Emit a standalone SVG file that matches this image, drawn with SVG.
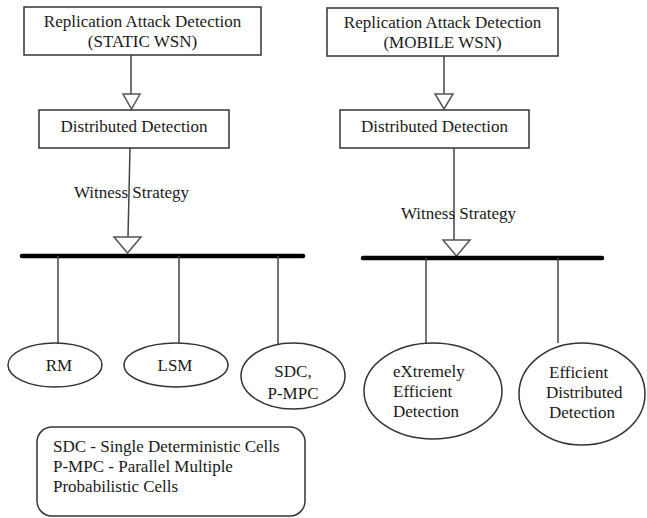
<svg xmlns="http://www.w3.org/2000/svg" width="647" height="518" viewBox="0 0 647 518" font-family="'Liberation Serif', 'DejaVu Serif', serif">
<style>
text{font-family:'Liberation Serif','DejaVu Serif',serif;font-size:17px;fill:#1a1a1a}
.box{fill:#fff;stroke:#333;stroke-width:1.5}
.ln{stroke:#444;stroke-width:1.5;fill:none}
.bar{stroke:#000;stroke-width:4.5;stroke-linecap:round}
.tri{fill:#fff;stroke:#555;stroke-width:1.5}
.c{text-anchor:middle}
</style>
<rect width="647" height="518" fill="#fff"/>
<g id="connectors">
<line class="ln" x1="131" y1="55" x2="131" y2="94"/>
<polygon class="tri" points="123,94 140,94 131.5,109"/>
<line class="ln" x1="444" y1="56" x2="444" y2="94"/>
<polygon class="tri" points="435,94 453,94 444,109"/>
<line class="ln" x1="130" y1="148" x2="128" y2="237"/>
<polygon class="tri" points="114,237 141,237 127.5,253"/>
<line class="bar" x1="22" y1="256" x2="303" y2="256"/>
<line class="ln" x1="58" y1="256" x2="58" y2="343"/>
<line class="ln" x1="179" y1="256" x2="179" y2="343"/>
<line class="ln" x1="278" y1="256" x2="278" y2="344"/>
<line class="ln" x1="454" y1="148" x2="454" y2="240"/>
<polygon class="tri" points="443,240 470,240 456.5,256"/>
<line class="bar" x1="363" y1="258" x2="602" y2="258"/>
<line class="ln" x1="426" y1="258" x2="426" y2="343"/>
<line class="ln" x1="558" y1="258" x2="558" y2="343"/>
</g>
<g id="static-root">
<rect class="box" x="24" y="7" width="237" height="48"/>
<text class="c" x="142.5" y="27">Replication Attack Detection</text>
<text class="c" x="142.5" y="47">(STATIC WSN)</text>
</g>
<g id="mobile-root">
<rect class="box" x="327" y="8" width="231" height="48"/>
<text class="c" x="442.5" y="28">Replication Attack Detection</text>
<text class="c" x="442.5" y="48">(MOBILE WSN)</text>
</g>
<g id="static-distributed">
<rect class="box" x="39" y="110" width="190" height="38"/>
<text class="c" x="134" y="132">Distributed Detection</text>
</g>
<g id="mobile-distributed">
<rect class="box" x="340" y="110" width="189" height="38"/>
<text class="c" x="434.5" y="132">Distributed Detection</text>
</g>
<g id="label-static">
<text x="74" y="198">Witness Strategy</text>
</g>
<g id="label-mobile">
<text x="401" y="219">Witness Strategy</text>
</g>
<g id="rm">
<ellipse class="box" cx="55" cy="365" rx="47" ry="22"/>
<text class="c" x="59" y="371">RM</text>
</g>
<g id="lsm">
<ellipse class="box" cx="176" cy="365" rx="52" ry="22"/>
<text class="c" x="175" y="371">LSM</text>
</g>
<g id="sdc">
<ellipse class="box" cx="293" cy="376" rx="52" ry="33"/>
<text class="c" x="293" y="377">SDC,</text>
<text class="c" x="293" y="399">P-MPC</text>
</g>
<g id="xed">
<ellipse class="box" cx="433" cy="391" rx="69" ry="48"/>
<text x="393" y="377">eXtremely</text>
<text x="393" y="397">Efficient</text>
<text x="393" y="417">Detection</text>
</g>
<g id="edd">
<ellipse class="box" cx="582" cy="394" rx="63" ry="51"/>
<text x="549" y="378">Efficient</text>
<text x="546" y="398">Distributed</text>
<text x="549" y="418">Detection</text>
</g>
<g id="legend">
<rect class="box" x="37" y="427" width="268" height="89" rx="15" ry="15"/>
<text x="53" y="452">SDC - Single Deterministic Cells</text>
<text x="53" y="472">P-MPC - Parallel Multiple</text>
<text x="53" y="492">Probabilistic Cells</text>
</g>
</svg>
